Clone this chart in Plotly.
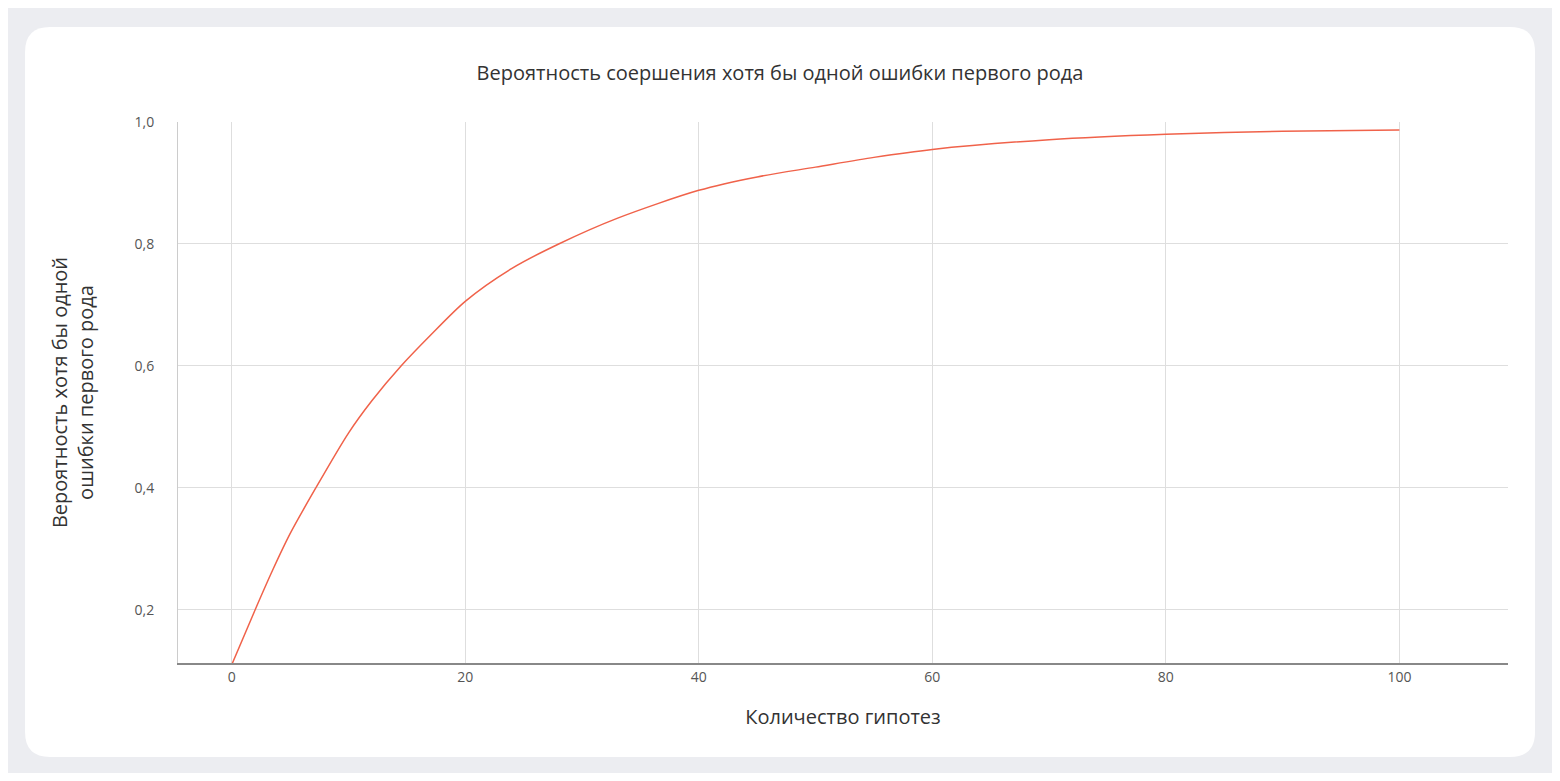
import plotly.graph_objects as go

hypotheses = [0, 2, 3.5, 5, 7.2, 10, 12, 14.5, 17, 20, 24, 28, 33, 40, 45, 50, 55, 60, 70, 80, 90, 100]
probability = [0.11, 0.2, 0.265, 0.325, 0.4, 0.49, 0.543, 0.6, 0.65, 0.706, 0.76, 0.8, 0.842, 0.888, 0.91, 0.926, 0.942, 0.955, 0.971, 0.98, 0.985, 0.987]
x_ticks = [0, 20, 40, 60, 80, 100]
y_ticks = [0.2, 0.4, 0.6, 0.8, 1.0]
y_labels = ["0,2", "0,4", "0,6", "0,8", "1,0"]

fig = go.Figure(go.Scatter(x=hypotheses, y=probability, mode="lines",
                           line=dict(color="#f0624a", width=1.5, shape="spline", smoothing=0.8),
                           hoverinfo="skip"))

x0, x1, y0, y1 = -0.115, 1.0203, -0.1738, 1.1756
rx, ry = 0.0188, 0.0462
path = (f"M {x0+rx},{y0} L {x1-rx},{y0} Q {x1},{y0} {x1},{y0+ry} L {x1},{y1-ry} "
        f"Q {x1},{y1} {x1-rx},{y1} L {x0+rx},{y1} Q {x0},{y1} {x0},{y1-ry} "
        f"L {x0},{y0+ry} Q {x0},{y0} {x0+rx},{y0} Z")
fig.add_shape(type="path", path=path, xref="paper", yref="paper",
              fillcolor="white", line=dict(width=0), layer="below")

fig.update_layout(
    width=1544, height=765,
    paper_bgcolor="#ecedf1", plot_bgcolor="rgba(0,0,0,0)",
    margin=dict(l=170, r=44, t=114, b=110),
    font=dict(family="Open Sans", color="#333"),
    title=dict(text="Вероятность соершения хотя бы одной ошибки первого рода",
               x=0.5, xanchor="center", y=0.915, yanchor="middle",
               font=dict(size=20, color="#333")),
    showlegend=False,
    xaxis=dict(range=[-4.6, 109.3], tickvals=x_ticks, showgrid=True, gridcolor="#dedede",
               zeroline=False, showline=True, linecolor="#888", linewidth=1.5,
               tickfont=dict(size=14, color="#555"), ticks="",
               title=dict(text="Количество гипотез", font=dict(size=20, color="#333"), standoff=25)),
    yaxis=dict(range=[0.113, 1.0], tickvals=y_ticks, ticktext=y_labels, showgrid=True,
               gridcolor="#dedede", zeroline=False, showline=True, linecolor="#ccc",
               tickfont=dict(size=14, color="#555"), ticks="", ticklabelstandoff=20,
               title=dict(text="Вероятность хотя бы одной<br>ошибки первого рода",
                          font=dict(size=20, color="#333"), standoff=35)),
)
fig.write_html("out.html")
